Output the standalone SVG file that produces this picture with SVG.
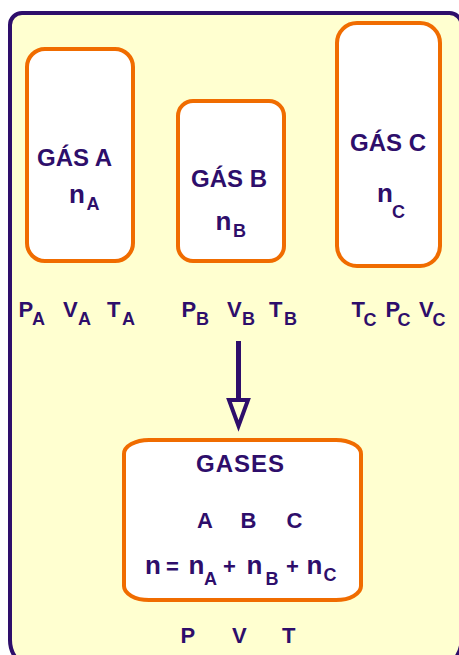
<svg xmlns="http://www.w3.org/2000/svg" width="459" height="655" viewBox="0 0 459 655">
<style>
.t{font-family:"Liberation Sans",Arial,sans-serif;font-weight:bold;fill:#2E0E6B}
.big{font-size:24px}
.m{font-size:22px}
.n{font-size:26px}
.s{font-size:18px}
.box{fill:#FFFFFF;stroke:#F06C00;stroke-width:4}
</style>
<rect width="459" height="655" fill="#FFFFFF"/>
<g id="frame">
<path d="M10,640 L10,25 A12,12 0 0 1 22,13 L449.5,13 A12,12 0 0 1 461.5,25 L461.5,640 A30,30 0 0 1 431.5,670 L40,670 A30,30 0 0 1 10,640 Z" fill="#FFFFD0" stroke="#2E0E6B" stroke-width="4"/>
</g>
<g id="gasA">
<rect class="box" x="27" y="49" width="106" height="212" rx="18"/>
<text class="t big" x="37" y="166">GÁS A</text>
<text class="t n" x="69" y="203">n</text>
<text class="t s" x="86.5" y="210">A</text>
</g>
<g id="gasB">
<rect class="box" x="178" y="101" width="106" height="160" rx="15"/>
<text class="t big" x="191" y="187">GÁS B</text>
<text class="t n" x="215.5" y="230">n</text>
<text class="t s" x="233" y="237">B</text>
</g>
<g id="gasC">
<rect class="box" x="337" y="23" width="103" height="243" rx="20"/>
<text class="t big" x="350" y="151">GÁS C</text>
<text class="t n" x="377" y="202">n</text>
<text class="t s" x="392" y="218">C</text>
</g>
<g id="varsA">
<text class="t m" x="18.5" y="317">P</text><text class="t s" x="32" y="325">A</text>
<text class="t m" x="63" y="317">V</text><text class="t s" x="78" y="325">A</text>
<text class="t m" x="107" y="317">T</text><text class="t s" x="122" y="325">A</text>
</g>
<g id="varsB">
<text class="t m" x="181.5" y="317">P</text><text class="t s" x="196" y="325">B</text>
<text class="t m" x="227" y="317">V</text><text class="t s" x="242" y="325">B</text>
<text class="t m" x="269" y="317">T</text><text class="t s" x="284" y="325">B</text>
</g>
<g id="varsC">
<text class="t m" x="351.5" y="317">T</text><text class="t s" x="363.5" y="326">C</text>
<text class="t m" x="385.5" y="317">P</text><text class="t s" x="397.5" y="326">C</text>
<text class="t m" x="419" y="317">V</text><text class="t s" x="432.5" y="326">C</text>
</g>
<g id="connectors">
<line x1="238.5" y1="341" x2="238.5" y2="399" stroke="#2E0E6B" stroke-width="5"/>
<polygon points="229,400 248,400 238.5,426" fill="#FFFFD0" stroke="#2E0E6B" stroke-width="4" stroke-linejoin="miter"/>
</g>
<g id="gases">
<rect class="box" x="124" y="440" width="237" height="160" rx="25" ry="14"/>
<text class="t big" x="196" y="472" letter-spacing="1">GASES</text>
<text class="t m" x="197" y="528">A</text>
<text class="t m" x="240.5" y="528">B</text>
<text class="t m" x="286.5" y="528">C</text>
<text class="t n" x="145" y="574">n</text>
<text class="t m" x="166" y="574">=</text>
<text class="t n" x="188.5" y="574">n</text>
<text class="t s" x="204" y="585">A</text>
<text class="t m" x="223" y="574">+</text>
<text class="t n" x="246.5" y="574">n</text>
<text class="t s" x="265.5" y="585">B</text>
<text class="t m" x="286" y="574">+</text>
<text class="t n" x="306.5" y="574">n</text>
<text class="t s" x="323.5" y="581">C</text>
</g>
<g id="result">
<text class="t m" x="180.5" y="643">P</text>
<text class="t m" x="232" y="643">V</text>
<text class="t m" x="282" y="643">T</text>
</g>
</svg>
